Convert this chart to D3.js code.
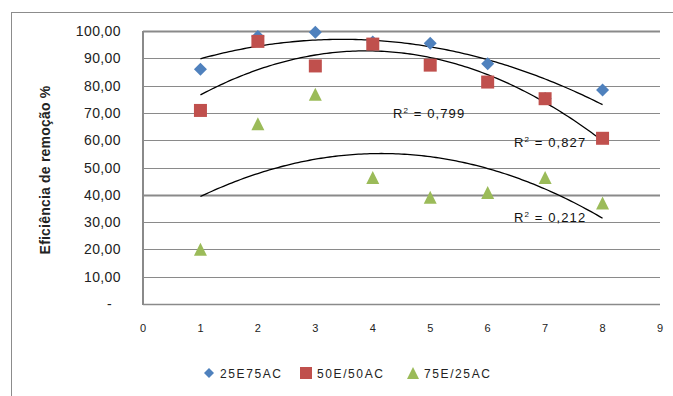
<!DOCTYPE html>
<html><head><meta charset="utf-8">
<script src="https://cdn.jsdelivr.net/npm/d3@7"></script>
<style>body{margin:0;background:#fff}svg{display:block}text{font-family:"Liberation Sans",Arial,sans-serif}</style>
</head><body><svg id="c" width="673" height="396"></svg>
<script>
const xValues = [1,2,3,4,5,6,7,8];
const seriesNames = ["25E75AC","50E/50AC","75E/25AC"];
const s25E75AC = [86.0,98.0,99.5,96.0,95.5,88.0,75.3,78.4];
const s50E50AC = [70.9,96.2,87.2,95.2,87.5,81.3,75.2,60.7];
const s75E25AC = [20.1,66.0,76.8,46.3,39.1,40.8,46.3,37.0];
const yTicks = [0,10,20,30,40,50,60,70,80,90,100];
const xTicks = [0,1,2,3,4,5,6,7,8,9];
const r2Labels = ["0,799","0,827","0,212"];
const colors = ["#4F81BD","#C0504D","#9BBB59"];
const seriesData = [s25E75AC, s50E50AC, s75E25AC];

const svg = d3.select("#c");
const x = d3.scaleLinear().domain([0,9]).range([143,660]);
const y = d3.scaleLinear().domain([0,100]).range([304,31]);

// outer chart border
svg.append("rect").attr("x",11.5).attr("y",12.5).attr("width",700).attr("height",400)
  .attr("fill","none").attr("stroke","#8c8c8c").attr("stroke-width",1);

// gridlines
svg.append("g").selectAll("line").data(yTicks.filter(d=>d>0)).join("line")
  .attr("x1",x(0)).attr("x2",x(9)).attr("y1",d=>Math.round(y(d))+0.5).attr("y2",d=>Math.round(y(d))+0.5)
  .attr("stroke","#8a8a8a").attr("stroke-width",d=>(d===40||d===100)?2:1);
// axes lines
svg.append("line").attr("x1",x(0)).attr("x2",x(0)).attr("y1",y(100)).attr("y2",y(0)+1)
  .attr("stroke","#8a8a8a").attr("stroke-width",2);
svg.append("line").attr("x1",x(0)).attr("x2",x(9)).attr("y1",y(0)+0.5).attr("y2",y(0)+0.5)
  .attr("stroke","#8a8a8a").attr("stroke-width",1.5);

// y tick labels
const fmt = d => d===0 ? "-" : d3.format(".2f")(d).replace(".",",");
svg.append("g").selectAll("text").data(yTicks).join("text")
  .attr("x",d=>d===0?112:121).attr("y",d=>y(d)+5)
  .attr("text-anchor","end").attr("font-size",14).attr("fill","#222")
  .attr("letter-spacing",0.4)
  .text(fmt);
// x tick labels
svg.append("g").selectAll("text").data(xTicks).join("text")
  .attr("x",d=>x(d)).attr("y",332).attr("text-anchor","middle")
  .attr("font-size",11).attr("fill","#222").text(d=>d);

// axis title
svg.append("text").attr("transform","translate(50,170) rotate(-90)")
  .attr("text-anchor","middle").attr("font-size",14).attr("font-weight","bold").attr("fill","#222")
  .attr("letter-spacing",0.2)
  .text("Eficiência de remoção %");

// polynomial (order 2) least squares fit
function polyFit(xs, ys){
  let n=xs.length,S=[0,0,0,0,0],T=[0,0,0];
  for(let i=0;i<n;i++){const a=xs[i];for(let k=0;k<5;k++)S[k]+=a**k;for(let k=0;k<3;k++)T[k]+=ys[i]*a**k;}
  const M=[[S[0],S[1],S[2],T[0]],[S[1],S[2],S[3],T[1]],[S[2],S[3],S[4],T[2]]];
  for(let i=0;i<3;i++){for(let j=i+1;j<3;j++){const f=M[j][i]/M[i][i];for(let k=i;k<4;k++)M[j][k]-=f*M[i][k];}}
  const c=[0,0,0];
  for(let i=2;i>=0;i--){let s=M[i][3];for(let k=i+1;k<3;k++)s-=M[i][k]*c[k];c[i]=s/M[i][i];}
  return t=>c[0]+c[1]*t+c[2]*t*t;
}
const line = d3.line().x(d=>x(d[0])).y(d=>y(d[1])).curve(d3.curveLinear);
seriesData.forEach(vals=>{
  const f = polyFit(xValues, vals);
  const pts = d3.range(1,8.001,0.05).map(t=>[t,f(t)]);
  svg.append("path").attr("d",line(pts)).attr("fill","none").attr("stroke","#000").attr("stroke-width",1.3);
});

// markers
function marker(g, i, cx, cy, size){
  if(i===0){
    const h=size/2;
    g.append("path").attr("d",`M${cx},${cy-h}L${cx+h},${cy}L${cx},${cy+h}L${cx-h},${cy}Z`).attr("fill",colors[0]);
  } else if(i===1){
    g.append("rect").attr("x",cx-size/2).attr("y",cy-size/2).attr("width",size).attr("height",size).attr("fill",colors[1]);
  } else {
    const h=size/2;
    g.append("path").attr("d",`M${cx},${cy-h}L${cx+h},${cy+h}L${cx-h},${cy+h}Z`).attr("fill",colors[2]);
  }
}
const mg = svg.append("g");
seriesData.forEach((vals,i)=>{
  vals.forEach((v,j)=>marker(mg,i,x(xValues[j]),y(v),13));
});

// R² labels
const r2Pos = [[393,118],[514,147],[514,222]];
r2Labels.forEach((t,i)=>{
  const tx = svg.append("text").attr("x",r2Pos[i][0]).attr("y",r2Pos[i][1]).attr("font-size",13).attr("fill","#111").attr("letter-spacing",1.1);
  tx.append("tspan").text("R");
  tx.append("tspan").attr("font-size",8).attr("dy",-5).text("2");
  tx.append("tspan").attr("dy",5).text(" = "+t);
});

// legend
const legX = [209,306,413];
seriesNames.forEach((nm,i)=>{
  const g = svg.append("g");
  marker(g,i,legX[i],373,i===0?10:12);
  g.append("text").attr("x",legX[i]+11).attr("y",378).attr("font-size",12).attr("fill","#222")
    .attr("letter-spacing",1.6).text(nm);
});
</script></body></html>
